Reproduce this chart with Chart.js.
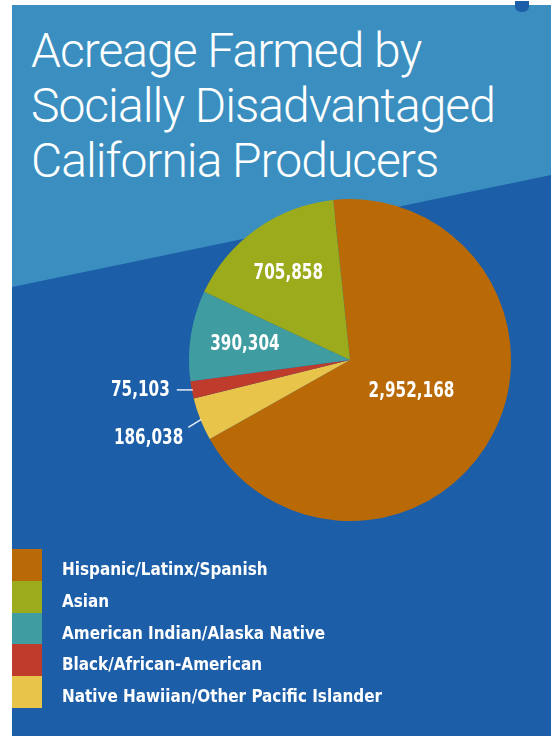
<!DOCTYPE html>
<html>
<head>
<meta charset="utf-8">
<script src="https://cdn.jsdelivr.net/npm/chart.js@4"></script>
<style>
  html, body { margin: 0; padding: 0; background: #fff; }
  body { width: 551px; height: 736px; position: relative; overflow: hidden; }
  #panel {
    position: absolute; left: 12px; top: 5px; width: 539px; height: 731px;
    background: #1c5ea7;
  }
  #panel .sky {
    position: absolute; left: 0; top: 0; width: 100%; height: 100%;
    background: #3a8fc0;
    clip-path: polygon(0 0, 539px 0, 539px 170px, 0 282px);
  }
  #panel .notch {
    position: absolute; left: 503px; top: -4px; width: 14px; height: 11px;
    background: #1c5ea7; border-radius: 0 0 50% 50%;
  }
  #title {
    position: absolute; left: 31px; top: 23px;
    color: #fff; font-family: Roboto, "Open Sans", sans-serif; font-weight: 300;
    font-size: 48px; line-height: 55px; white-space: nowrap; letter-spacing: -1px;
  }
  #chart-box { position: absolute; left: 0; top: 0; width: 551px; height: 736px; }
  #legend { position: absolute; left: 12px; top: 549px; }
  #legend .row { display: flex; height: 31.8px; }
  #legend .swatch { width: 30px; height: 31.8px; }
  #legend .label {
    margin-left: 20px; color: #fff; line-height: 31.8px; position: relative; top: 4px;
    font-family: "Liberation Sans Narrow", "DejaVu Sans Condensed", sans-serif;
    font-weight: bold; font-size: 18px; white-space: nowrap;
    transform: scaleX(0.94); transform-origin: left center;
  }
</style>
</head>
<body>
<div id="panel"><div class="sky"></div><div class="notch"></div></div>
<div id="title">Acreage Farmed by<br>Socially Disadvantaged<br>California Producers</div>
<div id="chart-box"><canvas id="pie" width="551" height="736"></canvas></div>
<div id="legend"></div>

<script>
// Data, legend order
const categories = [
    'Hispanic/Latinx/Spanish',
    'Asian',
    'American Indian/Alaska Native',
    'Black/African-American',
    'Native Hawiian/Other Pacific Islander'
];
const acres = [2952168, 705858, 390304, 75103, 186038];

// Slice colours, same order as categories
const sliceColors = ['#b96a06', '#9bab1b', '#3f9da2', '#bf3b2c', '#e9c44b'];

// Order of the slices clockwise from the top
const pieOrder = [0, 4, 3, 2, 1];

// Leader lines for the thin slices (offsets from the slice edge)
const leaders = {
    'Black/African-American': { dx: -15, dy: 0, tx: -7, ty: 0 },
    'Native Hawiian/Other Pacific Islander': { dx: -12, dy: 8, tx: -5, ty: 11 }
};

// Build the legend
const legendEl = document.getElementById('legend');
categories.forEach((name, i) => {
    const row = document.createElement('div');
    row.className = 'row';
    row.innerHTML = '<div class="swatch" style="background:' + sliceColors[i] + '"></div>' +
        '<div class="label">' + name + '</div>';
    legendEl.appendChild(row);
});

// draw text squeezed horizontally (the original uses a condensed face)
function squeezedText(ctx, text, x, y, squeeze) {
    ctx.save();
    ctx.translate(x, y);
    ctx.scale(squeeze, 1);
    ctx.fillText(text, 0, 0);
    ctx.restore();
}

// Plugin that writes the acreage on / beside each slice
const sliceLabels = {
    id: 'sliceLabels',
    afterDatasetsDraw(chart) {
        const ctx = chart.ctx;
        const meta = chart.getDatasetMeta(0);
        const ds = chart.data.datasets[0];
        ctx.save();
        ctx.font = 'bold 22px "Liberation Sans Narrow", "DejaVu Sans Condensed", sans-serif';
        ctx.fillStyle = '#fff';
        ctx.strokeStyle = '#e8eef6';
        ctx.lineWidth = 1.5;
        ctx.textBaseline = 'middle';
        meta.data.forEach((arc, i) => {
            const p = arc.getProps(['x', 'y', 'startAngle', 'endAngle', 'outerRadius'], true);
            const mid = (p.startAngle + p.endAngle) / 2;
            const sweep = p.endAngle - p.startAngle;
            const text = ds.data[i].toLocaleString('en-US');
            const lead = leaders[chart.data.labels[i]];
            if (lead) {
                const ex = p.x + Math.cos(mid) * p.outerRadius;
                const ey = p.y + Math.sin(mid) * p.outerRadius;
                ctx.beginPath();
                ctx.moveTo(ex + 1, ey);
                ctx.lineTo(ex + lead.dx, ey + lead.dy);
                ctx.stroke();
                ctx.textAlign = 'right';
                squeezedText(ctx, text, ex + lead.dx + lead.tx, ey + lead.dy + lead.ty, 0.77);
            } else {
                const f = sweep > Math.PI ? 0.43 : 0.66;
                ctx.textAlign = 'center';
                squeezedText(ctx, text, p.x + Math.cos(mid) * p.outerRadius * f,
                    p.y + Math.sin(mid) * p.outerRadius * f, 0.77);
            }
        });
        ctx.restore();
    }
};

new Chart(document.getElementById('pie'), {
    type: 'pie',
    data: {
        labels: pieOrder.map(i => categories[i]),
        datasets: [{
            data: pieOrder.map(i => acres[i]),
            backgroundColor: pieOrder.map(i => sliceColors[i]),
            borderWidth: 0
        }]
    },
    options: {
        responsive: false,
        animation: false,
        rotation: -6,
        layout: { padding: { left: 189, top: 198, right: 40, bottom: 214 } },
        plugins: {
            legend: { display: false },
            tooltip: { enabled: false }
        }
    },
    plugins: [sliceLabels]
});
</script>
</body>
</html>
